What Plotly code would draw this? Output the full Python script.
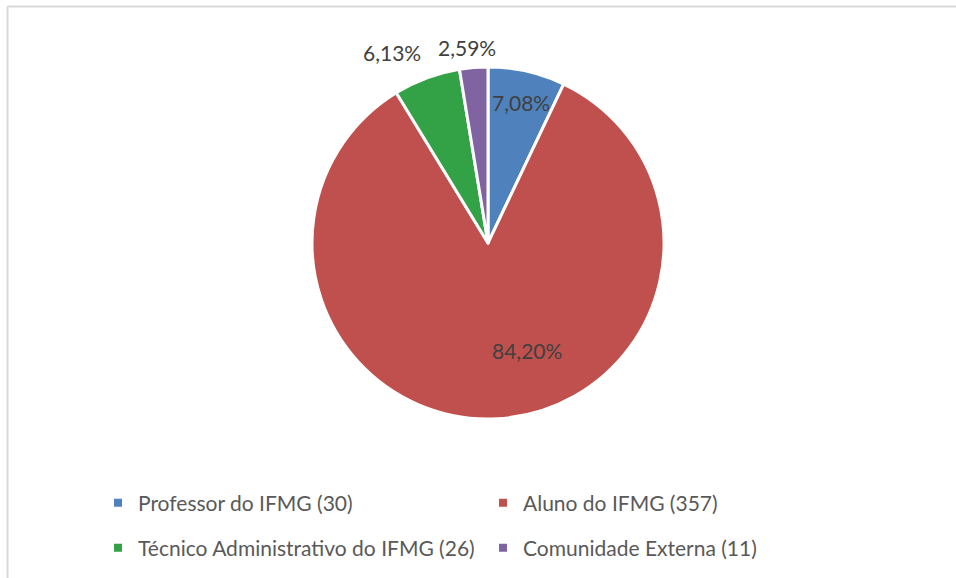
import plotly.graph_objects as go

categories = ["Professor do IFMG", "Aluno do IFMG", "Técnico Administrativo do IFMG", "Comunidade Externa"]
counts = [30, 357, 26, 11]
colors = ["#4F81BD", "#C0504D", "#33A145", "#8064A2"]

total = sum(counts)
pct_text = [f"{c / total * 100:.2f}%".replace(".", ",") for c in counts]

W, H = 956, 578
FONT = "Lato"

fig = go.Figure()
fig.add_trace(go.Pie(
    labels=categories, values=counts, sort=False, direction="clockwise", rotation=0,
    marker=dict(colors=colors, line=dict(color="white", width=3)),
    textinfo="none", hoverinfo="label+value+percent", showlegend=False,
    domain=dict(x=[312 / W, 664 / W], y=[1 - 419 / H, 1 - 67 / H]),
))

# legend entries (two rows, two columns)
legend_ids = ["legend", "legend", "legend2", "legend2"]
for name, cnt, col, lg in zip(categories, counts, colors, legend_ids):
    fig.add_trace(go.Scatter(
        x=[None], y=[None], mode="markers", name=f"{name} ({cnt})",
        marker=dict(symbol="square", size=8, color=col), legend=lg, showlegend=True,
    ))

# percentage label positions (pixels)
label_pos = [(521, 102), (527, 350), (392, 52), (467, 47)]
for txt, (px, py) in zip(pct_text, label_pos):
    fig.add_annotation(x=px / W, y=1 - py / H, xref="paper", yref="paper", text=txt,
                       xanchor="center", yanchor="middle", showarrow=False,
                       font=dict(family=FONT, size=21, color="#404040"))

legend_common = dict(orientation="h", xanchor="left", yanchor="middle", entrywidth=340,
                     entrywidthmode="pixels", font=dict(family=FONT, size=21, color="#595959"),
                     bgcolor="rgba(0,0,0,0)", itemclick=False)
fig.update_layout(
    width=W, height=H, margin=dict(l=0, r=0, t=0, b=0),
    paper_bgcolor="white", plot_bgcolor="white",
    xaxis=dict(visible=False), yaxis=dict(visible=False),
    legend=dict(x=98 / W, y=1 - 503 / H, **legend_common),
    legend2=dict(x=98 / W, y=1 - 548 / H, **legend_common),
    shapes=[
        dict(type="line", xref="paper", yref="paper", x0=7.5 / W, x1=1.0, y0=1 - 6.5 / H, y1=1 - 6.5 / H,
             line=dict(color="#D9D9D9", width=2), layer="above"),
        dict(type="line", xref="paper", yref="paper", x0=7.5 / W, x1=7.5 / W, y0=0, y1=1 - 6.5 / H,
             line=dict(color="#D9D9D9", width=2), layer="above"),
    ],
)

fig.write_html("out.html", config={"displayModeBar": False},
               post_script="document.body.style.margin='0';document.body.style.padding='0';")
